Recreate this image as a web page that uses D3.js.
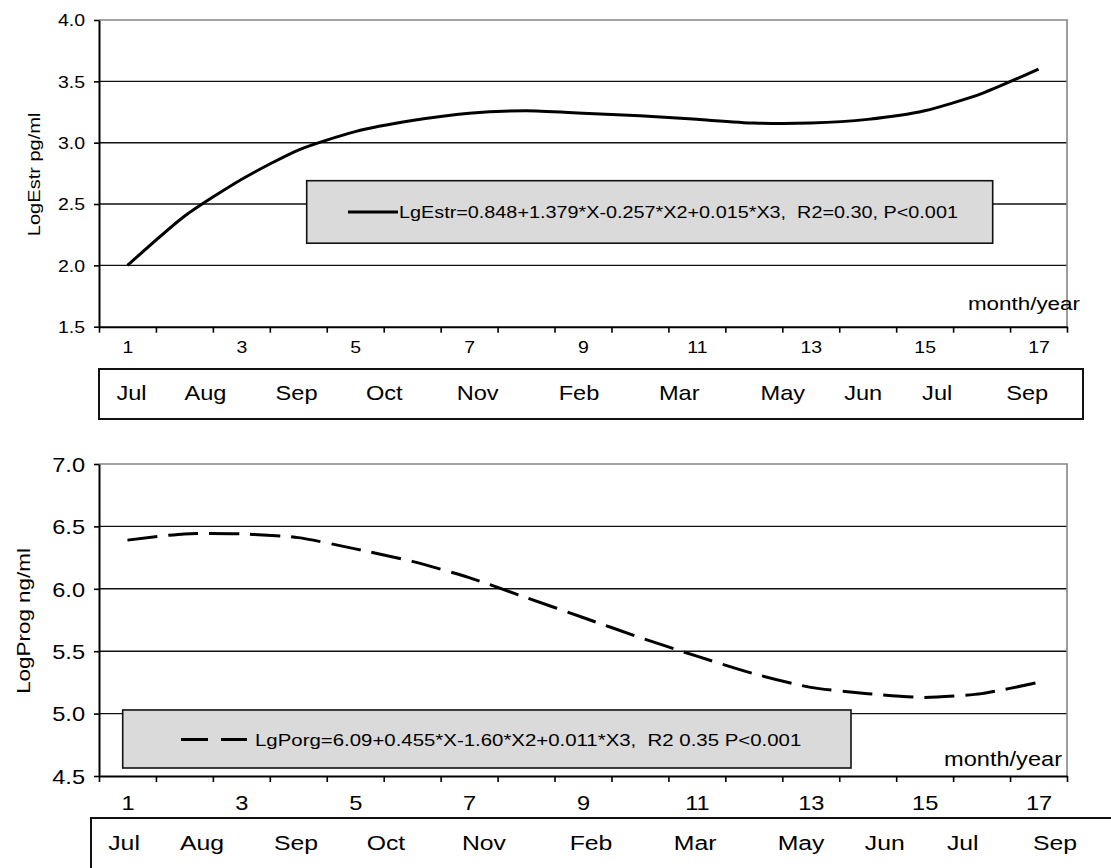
<!DOCTYPE html>
<html>
<head>
<meta charset="utf-8">
<script src="https://cdn.jsdelivr.net/npm/d3@7"></script>
<style>
  body { margin: 0; background: #fff; }
  svg { display: block; font-family: Arial, 'Liberation Sans', sans-serif; }
</style>
</head>
<body>
<div id="root"></div>
<script>
/* global d3 */

// data
const periods = [ 1, 2, 3, 4, 5, 6, 7, 8, 9, 10, 11, 12, 13, 14, 15, 16, 17 ];
const periodLabels = [ 1, 3, 5, 7, 9, 11, 13, 15, 17 ];
const estrValues = [ 2.00, 2.40, 2.70, 2.94, 3.09, 3.18, 3.24, 3.26, 3.24, 3.22, 3.19, 3.16, 3.16, 3.19, 3.26, 3.40, 3.60 ];
const progValues = [ 6.39, 6.44, 6.44, 6.41, 6.32, 6.22, 6.09, 5.93, 5.77, 5.61, 5.46, 5.32, 5.21, 5.16, 5.13, 5.16, 5.25 ];
const estrTicks = [ 1.5, 2.0, 2.5, 3.0, 3.5, 4.0 ];
const progTicks = [ 4.5, 5.0, 5.5, 6.0, 6.5, 7.0 ];
const months = [ 'Jul', 'Aug', 'Sep', 'Oct', 'Nov', 'Feb', 'Mar', 'May', 'Jun', 'Jul', 'Sep' ];
// where each month name sits along the period index
const monthAtTop = [ 1.07, 2.37, 3.97, 5.51, 7.15, 8.93, 10.69, 12.51, 13.92, 15.22, 16.80 ];
const monthAtBottom = [ 0.94, 2.31, 3.96, 5.54, 7.26, 9.14, 10.97, 12.83, 14.30, 15.67, 17.29 ];
const estrFit = 'LgEstr=0.848+1.379*X-0.257*X2+0.015*X3,  R2=0.30, P<0.001';
const progFit = 'LgPorg=6.09+0.455*X-1.60*X2+0.011*X3,  R2 0.35 P<0.001';

const width = 1111;
const height = 868;
const plotLeft = 99;
const plotRight = 1067;
const stretch = 1.18;

function addText(parent, x, y, str, size, anchor, angle) {
  return parent.append('text')
    .attr('transform', `translate(${ x },${ y }) rotate(${ angle || 0 }) scale(${ stretch },1)`)
    .attr('font-size', `${ size }px`)
    .attr('text-anchor', anchor || 'start')
    .attr('fill', '#000')
    .style('white-space', 'pre')
    .text(str);
}

function renderPanel(svg, cfg) {
  const g = svg.append('g');
  const x = d3.scaleLinear().domain([ 0.5, 17.5 ]).range([ plotLeft, plotRight ]);
  const y = d3.scaleLinear().domain(d3.extent(cfg.ticks)).range([ cfg.bottom, cfg.top ]);
  const inner = cfg.ticks.slice(1, -1);

  g.selectAll('.grid')
    .data(inner)
    .enter()
    .append('line')
    .attr('x1', plotLeft)
    .attr('x2', plotRight)
    .attr('y1', (d) => y(d))
    .attr('y2', (d) => y(d))
    .style('stroke', '#111')
    .style('stroke-width', '1.4px');

  // gray frame top / right
  g.append('path')
    .attr('d', `M${ plotLeft },${ y(cfg.ticks[cfg.ticks.length - 1]) }H${ plotRight }V${ cfg.bottom }`)
    .style('fill', 'none')
    .style('stroke', '#858585')
    .style('stroke-width', '1.6px');

  // legend box
  g.append('rect')
    .attr('x', cfg.legend.x)
    .attr('y', cfg.legend.y)
    .attr('width', cfg.legend.w)
    .attr('height', cfg.legend.h)
    .style('fill', '#dadada')
    .style('stroke', '#111')
    .style('stroke-width', '1.6px');

  g.append('line')
    .attr('x1', cfg.legend.lx)
    .attr('x2', cfg.legend.lx + cfg.legend.lw)
    .attr('y1', cfg.legend.ly)
    .attr('y2', cfg.legend.ly)
    .style('stroke', '#000')
    .style('stroke-width', '3px')
    .style('stroke-dasharray', cfg.legendDash);

  addText(g, cfg.legend.tx, cfg.legend.ly + 6, cfg.fit, cfg.legendSize);

  const line = d3.line()
    .curve(d3.curveCardinal.tension(0.35))
    .x((d, i) => x(periods[i]))
    .y((d) => y(d));

  g.append('path')
    .datum(cfg.values)
    .attr('d', line)
    .style('fill', 'none')
    .style('stroke', '#000')
    .style('stroke-width', '3px')
    .style('stroke-linejoin', 'round')
    .style('stroke-dasharray', cfg.dash);

  // y axis
  const yAxis = g.append('g')
    .attr('transform', `translate(${ plotLeft },0)`)
    .call(d3.axisLeft(y).tickValues(cfg.ticks).tickSize(5).tickSizeOuter(0)
      .tickFormat(d3.format('.1f')));
  yAxis.select('.domain').style('stroke', '#000').style('stroke-width', '2px');
  yAxis.selectAll('.tick line').style('stroke', '#000').style('stroke-width', '1.6px');
  yAxis.selectAll('.tick text')
    .attr('x', -14 / stretch)
    .attr('dy', '0.36em')
    .attr('transform', `scale(${ stretch },1)`)
    .attr('font-family', null)
    .attr('font-size', `${ cfg.tickSize }px`)
    .attr('fill', '#000');

  // x axis ticks at period boundaries
  const xAxis = g.append('g')
    .attr('transform', `translate(0,${ cfg.bottom })`)
    .call(d3.axisBottom(x).tickValues(d3.range(0.5, 17.6, 1)).tickSize(6).tickSizeOuter(0)
      .tickFormat(''));
  xAxis.select('.domain').style('stroke', '#000').style('stroke-width', '2px');
  xAxis.selectAll('.tick line').style('stroke', '#000').style('stroke-width', '1.6px');

  const xLabels = g.append('g')
    .attr('transform', `translate(0,${ cfg.bottom })`)
    .call(d3.axisBottom(x).tickValues(periodLabels).tickSize(0).tickSizeOuter(0)
      .tickFormat(d3.format('d')));
  xLabels.select('.domain').remove();
  xLabels.selectAll('.tick text')
    .attr('y', cfg.labelY - cfg.bottom)
    .attr('dy', 0)
    .attr('transform', `scale(${ stretch },1)`)
    .attr('font-family', null)
    .attr('font-size', `${ cfg.tickSize }px`)
    .attr('fill', '#000');

  addText(g, cfg.unitX, cfg.unitY, 'month/year', cfg.unitSize, 'end');
  addText(g, cfg.titleX, (cfg.top + cfg.bottom) / 2 + 1, cfg.title, cfg.titleSize, 'middle', -90);

  // month strip
  g.append('rect')
    .attr('x', cfg.box.x)
    .attr('y', cfg.box.y)
    .attr('width', cfg.box.w)
    .attr('height', cfg.box.h)
    .style('fill', 'none')
    .style('stroke', '#111')
    .style('stroke-width', '2px');

  months.forEach((m, i) => {
    addText(g, x(cfg.monthAt[i]), cfg.monthY, m, cfg.monthSize, 'middle');
  });
}

function render() {
  const svg = d3.select('#root')
    .append('svg')
    .attr('width', width)
    .attr('height', height);

  renderPanel(svg, {
    values: estrValues,
    ticks: estrTicks,
    top: 20,
    bottom: 326.7,
    dash: null,
    legendDash: null,
    fit: estrFit,
    legend: { x: 306.7, y: 180.7, w: 686, h: 62.5, lx: 348, lw: 50, ly: 212, tx: 399 },
    legendSize: 16.8,
    tickSize: 16.5,
    labelY: 353,
    unitX: 1080,
    unitY: 310,
    unitSize: 19,
    title: 'LogEstr pg/ml',
    titleX: 40,
    titleSize: 17,
    box: { x: 99, y: 369, w: 984, h: 50 },
    monthAt: monthAtTop,
    monthY: 400,
    monthSize: 20,
  });

  renderPanel(svg, {
    values: progValues,
    ticks: progTicks,
    top: 464,
    bottom: 776,
    dash: '30,11',
    legendDash: '27,13',
    fit: progFit,
    legend: { x: 122.7, y: 710, w: 728.3, h: 58, lx: 181, lw: 66, ly: 739.5, tx: 255 },
    legendSize: 17.3,
    tickSize: 20,
    labelY: 810,
    unitX: 1062,
    unitY: 766,
    unitSize: 20,
    title: 'LogProg ng/ml',
    titleX: 30,
    titleSize: 19,
    box: { x: 91, y: 818, w: 1040, h: 80 },
    monthAt: monthAtBottom,
    monthY: 850,
    monthSize: 21,
  });
}

render();
</script>
</body>
</html>
